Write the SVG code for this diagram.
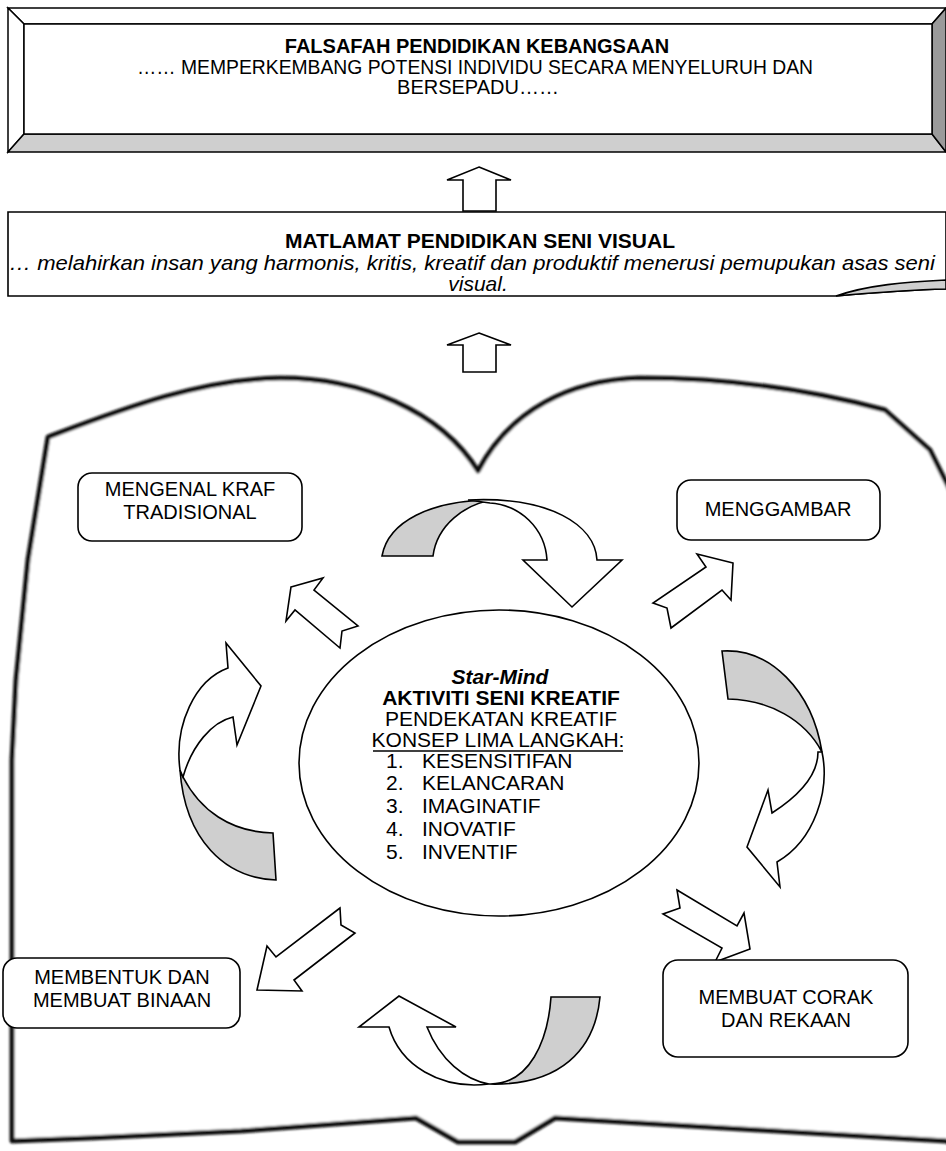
<svg xmlns="http://www.w3.org/2000/svg" width="946" height="1151" viewBox="0 0 946 1151">
<defs>
<style>
.t{font-family:"Liberation Sans",Arial,sans-serif;font-size:20px;fill:#000;text-anchor:middle}
.e{font-size:21px}
.s{text-anchor:start}
.b{font-weight:bold}
.i{font-style:italic}
.box{fill:#fff;stroke:#000;stroke-width:1.6}
.w{fill:#fff;stroke:#000;stroke-width:1.6;stroke-linejoin:miter}
.g{fill:#cfcfcf;stroke:#000;stroke-width:1.6;stroke-linejoin:miter}
.book{fill:#fff;stroke:#111;stroke-width:5;stroke-linejoin:round;filter:url(#blur)}
</style>
<filter id="blur" x="-5%" y="-5%" width="110%" height="110%"><feGaussianBlur stdDeviation="0.9"/></filter>
</defs>
<rect width="946" height="1151" fill="#fff"/>

<g id="falsafah">
<polygon points="8,8 946,8 932,24 24,24" fill="#fff" stroke="#000" stroke-width="1.5"/>
<polygon points="8,8 24,24 24,134 8,152" fill="#fff" stroke="#000" stroke-width="1.5"/>
<polygon points="8,152 24,134 932,134 946,152" fill="#cfcfcf" stroke="#000" stroke-width="1.5"/>
<polygon points="946,8 932,24 932,134 946,152" fill="#9a9a9a" stroke="#000" stroke-width="1.5"/>
<rect x="24" y="24" width="908" height="110" fill="#fff" stroke="#000" stroke-width="1.5"/>
<text class="t b" x="477" y="53">FALSAFAH PENDIDIKAN KEBANGSAAN</text>
<text class="t" x="475" y="74" textLength="676" lengthAdjust="spacingAndGlyphs">…… MEMPERKEMBANG POTENSI INDIVIDU SECARA MENYELURUH DAN</text>
<text class="t" x="478" y="94">BERSEPADU……</text>
</g>

<g id="matlamat">
<path class="box" d="M8,212 H946 V289 C905,290 870,293 836,296 H8 Z"/>
<path class="g" d="M836,296 C868,285 905,282 946,280 L946,289 C905,290 870,293 836,296 Z"/>
<text class="t b e" x="480" y="248">MATLAMAT PENDIDIKAN SENI VISUAL</text>
<text class="t i e" x="472" y="270" textLength="926" lengthAdjust="spacingAndGlyphs">… melahirkan insan yang harmonis, kritis, kreatif dan produktif menerusi pemupukan asas seni</text>
<text class="t i e" x="478" y="291">visual.</text>
</g>

<g id="book">
<path class="book" d="M12,1141 L12,760 L16,680 L28,560 L48,437 C120,410 200,379 280,378 C360,378 440,410 478,471 C510,410 570,380 640,378 C730,378 810,390 885,410 L930,450 L965,520 L965,1150 L946,1141 L724,1128 L555,1118 L515,1142 L458,1142 L416,1118 L241,1131 L90,1138 Z"/>
</g>

<g id="connectors">
<polygon class="w" points="479,167 511,180 496,180 496,211 463,211 463,180 447,180"/>
<polygon class="w" points="479,333 511,345 496,345 496,372 463,372 463,345 447,345"/>

<polygon class="w" points="291,587 323,578 314,590 358,626 342,631 340,648 295,610 286,621"/>
<polygon class="w" points="733,563 697,554 706,567 653,603 667,608 671,628 722,590 731,600"/>
<polygon class="w" points="677,890 737,926 744,913 750,949 715,962 722,948 663,914 680,908"/>
<polygon class="w" points="340,908 276,957 267,946 257,990 302,991 294,980 355,933 341,925"/>

<path class="g" d="M382,556 C388,522 430,500 493,500 C465,504 437,525 433,556 Z"/>
<path class="w" d="M468,500 C550,496 595,525 597,560 L622,560 L572,607 L523,560 L547,560 C545,528 520,505 490,503 Z"/>

<path class="g" d="M722,651 C770,648 812,690 822,752 C805,720 770,700 728,699 Z"/>
<path class="w" d="M822,752 C830,790 815,840 777,862 L780,887 L747,847 L768,790 L772,813 C800,795 818,775 818,752 Z"/>

<path class="w" d="M489,1084 C440,1090 400,1065 389,1027 L359,1027 L399,996 L456,1027 L427,1027 C440,1060 465,1080 489,1084 Z"/>
<path class="g" d="M489,1084 C530,1085 548,1040 551,997 L600,997 C595,1050 560,1086 489,1084 Z"/>

<path class="g" d="M180,770 C185,840 225,878 276,880 L273,833 C230,832 200,810 183,777 Z"/>
<path class="w" d="M180,770 C174,725 195,680 228,668 L226,643 L261,686 L237,745 L233,717 C212,722 192,745 183,777 Z"/>
</g>

<g id="center">
<ellipse cx="499" cy="763" rx="200" ry="153" fill="#fff" stroke="#000" stroke-width="1.6"/>
<text class="t e b i" x="500" y="684">Star-Mind</text>
<text class="t e b" x="501" y="705">AKTIVITI SENI KREATIF</text>
<text class="t e" x="501" y="726">PENDEKATAN KREATIF</text>
<text class="t e" x="498" y="747">KONSEP LIMA LANGKAH:</text>
<line x1="373" y1="751" x2="623" y2="751" stroke="#000" stroke-width="1.5"/>
<text class="t e s" x="386" y="768">1.</text><text class="t e s" x="422" y="768">KESENSITIFAN</text>
<text class="t e s" x="386" y="790">2.</text><text class="t e s" x="422" y="790">KELANCARAN</text>
<text class="t e s" x="386" y="813">3.</text><text class="t e s" x="422" y="813">IMAGINATIF</text>
<text class="t e s" x="386" y="836">4.</text><text class="t e s" x="422" y="836">INOVATIF</text>
<text class="t e s" x="386" y="859">5.</text><text class="t e s" x="422" y="859">INVENTIF</text>
</g>

<g id="kraf">
<rect class="box" x="78" y="473" width="224" height="68" rx="14"/>
<text class="t" x="190" y="496">MENGENAL KRAF</text>
<text class="t" x="190" y="519">TRADISIONAL</text>
</g>

<g id="menggambar">
<rect class="box" x="677" y="480" width="203" height="60" rx="14"/>
<text class="t" x="778" y="516">MENGGAMBAR</text>
</g>

<g id="membentuk">
<rect class="box" x="3" y="958" width="237" height="70" rx="14"/>
<text class="t" x="122" y="984">MEMBENTUK DAN</text>
<text class="t" x="122" y="1007">MEMBUAT BINAAN</text>
</g>

<g id="corak">
<rect class="box" x="663" y="960" width="245" height="97" rx="15"/>
<text class="t" x="786" y="1004">MEMBUAT CORAK</text>
<text class="t" x="786" y="1027">DAN REKAAN</text>
</g>
</svg>
